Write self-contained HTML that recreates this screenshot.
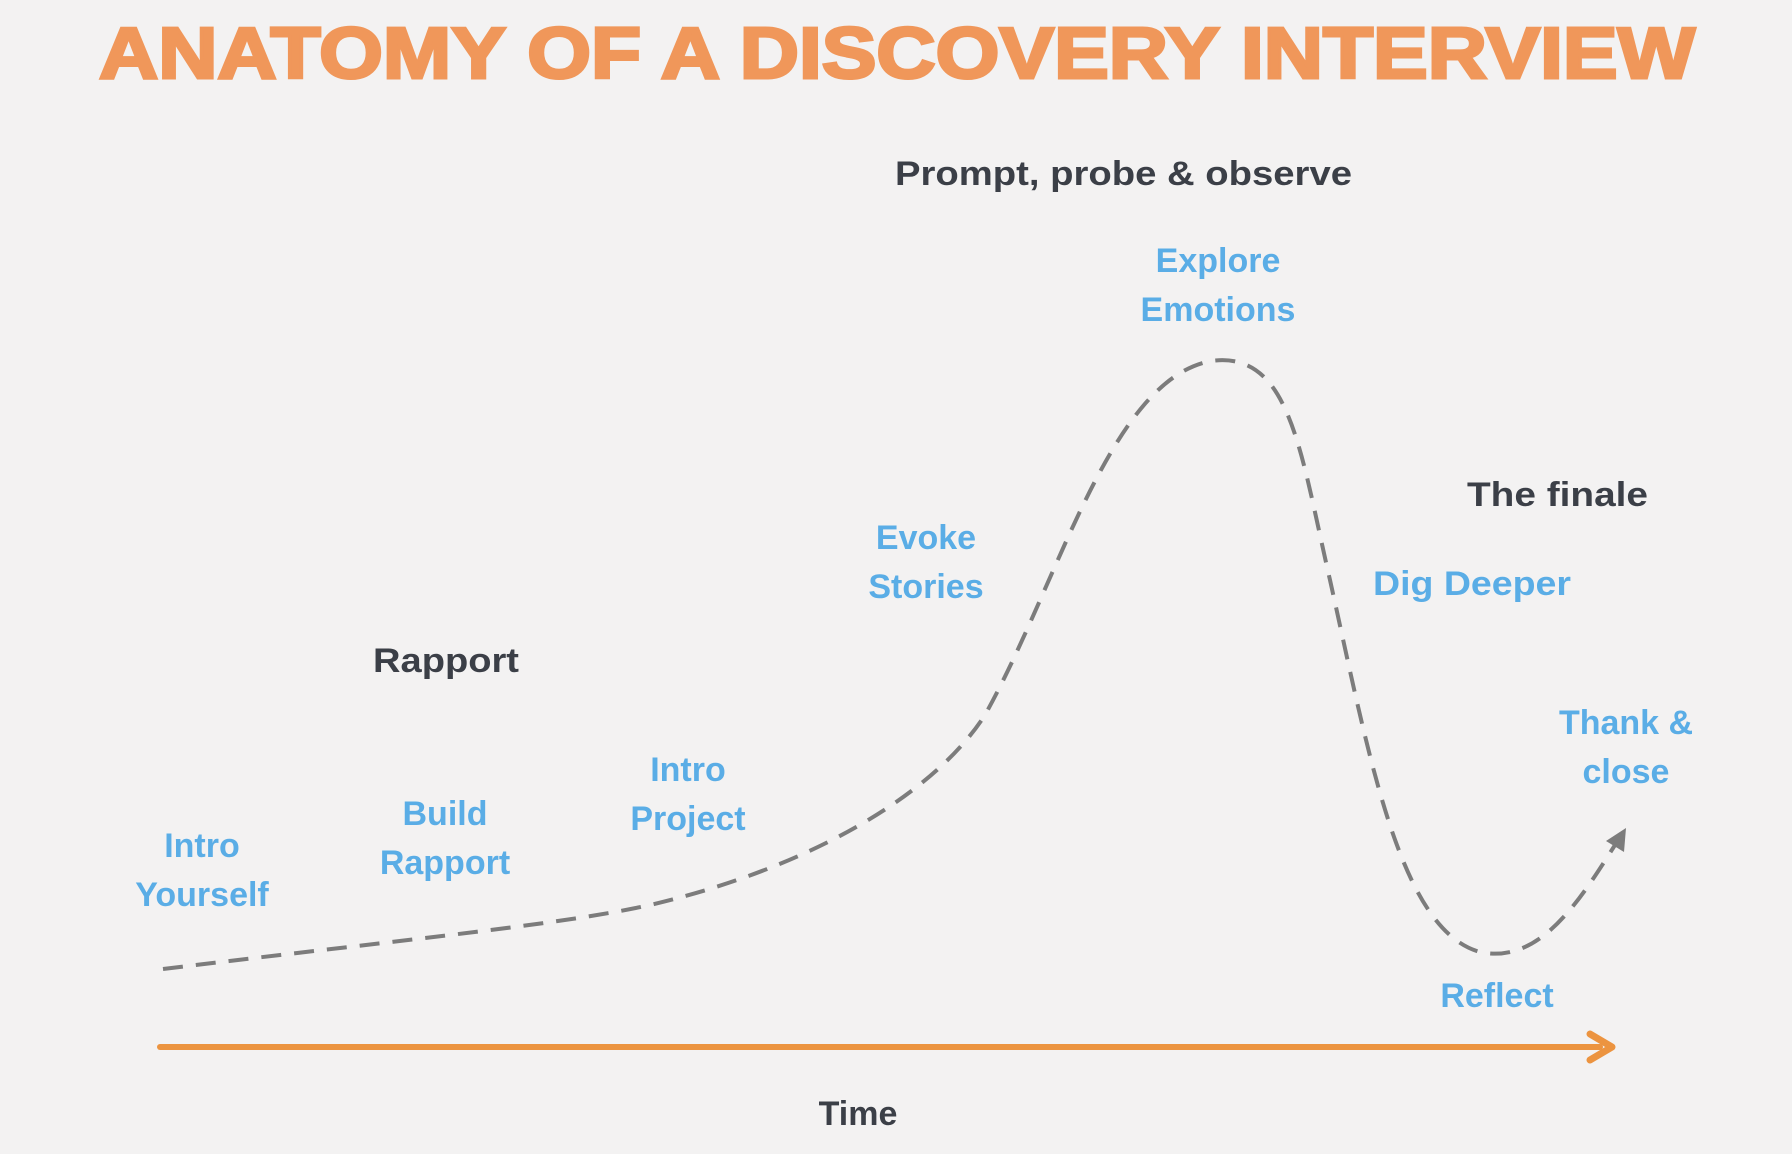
<!DOCTYPE html>
<html>
<head>
<meta charset="utf-8">
<style>
  html,body{margin:0;padding:0;background:#f3f2f2;}
  svg{display:block;}
  text{font-family:"Liberation Sans",Arial,sans-serif;font-weight:bold;}
  .b{fill:#5aade6;font-size:34px;}
  .d{fill:#3b3f47;font-size:34px;}
</style>
</head>
<body>
<svg width="1792" height="1154" viewBox="0 0 1792 1154" xmlns="http://www.w3.org/2000/svg">
  <rect width="1792" height="1154" fill="#f3f2f2"/>
  <text x="99" y="78" textLength="1596" lengthAdjust="spacingAndGlyphs" style="font-size:72px;fill:#f0975a;stroke:#f0975a;stroke-width:3;">ANATOMY OF A DISCOVERY INTERVIEW</text>

  <text class="d" x="895" y="185" textLength="457" lengthAdjust="spacingAndGlyphs">Prompt, probe &amp; observe</text>
  <text class="b" x="1218" y="272" text-anchor="middle">Explore</text>
  <text class="b" x="1218" y="321" text-anchor="middle">Emotions</text>
  <text class="d" x="1467" y="506" textLength="181" lengthAdjust="spacingAndGlyphs">The finale</text>
  <text class="b" x="926" y="549" text-anchor="middle">Evoke</text>
  <text class="b" x="926" y="598" text-anchor="middle">Stories</text>
  <text class="b" x="1373" y="595" textLength="198" lengthAdjust="spacingAndGlyphs">Dig Deeper</text>
  <text class="d" x="373" y="672" textLength="146" lengthAdjust="spacingAndGlyphs">Rapport</text>
  <text class="b" x="1626" y="734" text-anchor="middle">Thank &amp;</text>
  <text class="b" x="1626" y="783" text-anchor="middle">close</text>
  <text class="b" x="688" y="781" text-anchor="middle">Intro</text>
  <text class="b" x="688" y="830" text-anchor="middle">Project</text>
  <text class="b" x="445" y="825" text-anchor="middle">Build</text>
  <text class="b" x="445" y="874" text-anchor="middle">Rapport</text>
  <text class="b" x="202" y="857" text-anchor="middle">Intro</text>
  <text class="b" x="202" y="906" text-anchor="middle">Yourself</text>
  <text class="b" x="1497" y="1007" text-anchor="middle">Reflect</text>
  <text class="d" x="858" y="1125" text-anchor="middle">Time</text>

  <path d="M163,969 C400,940 560,925 650,905 C800,870 930,800 985,715 C1060,580 1110,380 1211,361 C1290,350 1300,450 1330,580 C1370,760 1400,930 1480,952 C1540,965 1580,900 1615,845"
        fill="none" stroke="#7c7c7c" stroke-width="4" stroke-dasharray="20 13"/>
  <polygon points="1626,828 1624,852 1606,841" fill="#7c7c7c"/>

  <line x1="160" y1="1047" x2="1600" y2="1047" stroke="#ec9440" stroke-width="6" stroke-linecap="round"/>
  <polyline points="1590,1034 1612,1047 1590,1060" fill="none" stroke="#ec9440" stroke-width="7" stroke-linecap="round" stroke-linejoin="round"/>
</svg>
</body>
</html>
